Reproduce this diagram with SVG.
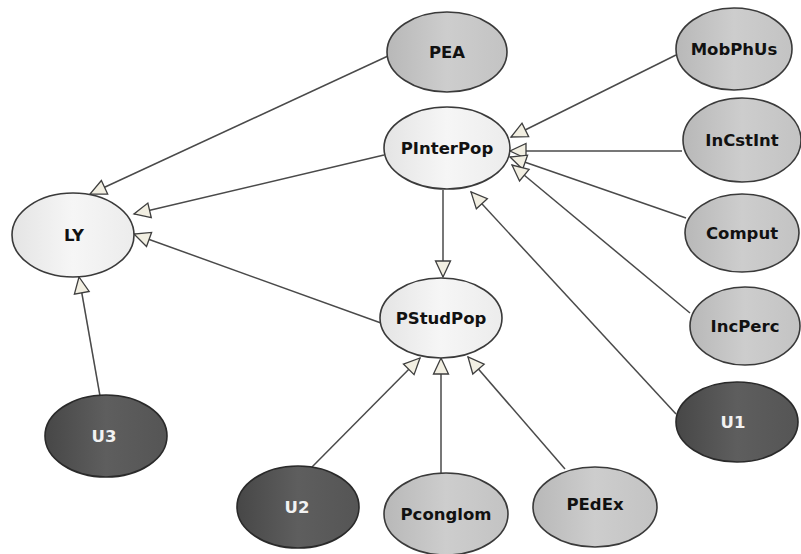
<svg xmlns="http://www.w3.org/2000/svg" width="801" height="554" viewBox="0 0 801 554">
<defs>
<style>
.light{fill:url(#gLight);stroke:#3a3a3a;stroke-width:1.6}
.mid{fill:url(#gMid);stroke:#3a3a3a;stroke-width:1.6}
.dark{fill:url(#gDark);stroke:#2a2a2a;stroke-width:1.6}
.t{font-family:"DejaVu Sans",Verdana,sans-serif;font-weight:bold;font-size:16.5px;text-anchor:middle;fill:#111}
.tw{font-family:"DejaVu Sans",Verdana,sans-serif;font-weight:bold;font-size:16.5px;text-anchor:middle;fill:#f2f2f2}
.e{stroke:#4a4a4a;stroke-width:1.5;fill:none;marker-end:url(#arr)}
</style>
<linearGradient id="gLight" x1="0" y1="0" x2="1" y2="0">
<stop offset="0" stop-color="#e4e4e4"/><stop offset="0.5" stop-color="#f6f6f6"/><stop offset="1" stop-color="#ececec"/>
</linearGradient>
<linearGradient id="gMid" x1="0" y1="0" x2="1" y2="0">
<stop offset="0" stop-color="#b8b8b8"/><stop offset="0.5" stop-color="#cdcdcd"/><stop offset="1" stop-color="#c3c3c3"/>
</linearGradient>
<linearGradient id="gDark" x1="0" y1="0" x2="1" y2="0">
<stop offset="0" stop-color="#474747"/><stop offset="0.5" stop-color="#5e5e5e"/><stop offset="1" stop-color="#555555"/>
</linearGradient>
<marker id="arr" markerUnits="userSpaceOnUse" markerWidth="20" markerHeight="18" refX="16.5" refY="8" orient="auto" overflow="visible">
<path d="M0.5,0.5 L16.5,8 L0.5,15.5 Z" fill="#f2efe2" stroke="#3e3e3e" stroke-width="1.3"/>
</marker>
</defs>
<rect width="801" height="554" fill="#ffffff"/>
<g id="edges">
<line class="e" x1="388" y1="56" x2="90" y2="194"/>
<line class="e" x1="384" y1="155" x2="134" y2="214"/>
<line class="e" x1="381" y1="323" x2="134" y2="234"/>
<line class="e" x1="100" y1="396" x2="79" y2="277"/>
<line class="e" x1="443" y1="190" x2="443" y2="277"/>
<line class="e" x1="676" y1="55" x2="511" y2="137"/>
<line class="e" x1="682" y1="151" x2="510" y2="151"/>
<line class="e" x1="686" y1="218" x2="510" y2="157"/>
<line class="e" x1="690" y1="313" x2="512" y2="165"/>
<line class="e" x1="676" y1="414" x2="471" y2="192"/>
<line class="e" x1="311" y1="468" x2="420" y2="358"/>
<line class="e" x1="441" y1="473" x2="441" y2="358"/>
<line class="e" x1="565" y1="469" x2="468" y2="357"/>
</g>
<g id="PEA"><ellipse class="mid" cx="447" cy="52" rx="60" ry="40"/><text class="t" x="447" y="58">PEA</text></g>
<g id="PInterPop"><ellipse class="light" cx="447" cy="148" rx="63" ry="41"/><text class="t" x="447" y="154">PInterPop</text></g>
<g id="LY"><ellipse class="light" cx="73" cy="235" rx="61" ry="42"/><text class="t" x="74" y="241">LY</text></g>
<g id="PStudPop"><ellipse class="light" cx="441" cy="318" rx="61" ry="40"/><text class="t" x="441" y="324">PStudPop</text></g>
<g id="MobPhUs"><ellipse class="mid" cx="734" cy="49" rx="58" ry="41"/><text class="t" x="734" y="55">MobPhUs</text></g>
<g id="InCstInt"><ellipse class="mid" cx="742" cy="140" rx="59" ry="42"/><text class="t" x="742" y="146">InCstInt</text></g>
<g id="Comput"><ellipse class="mid" cx="742" cy="233" rx="57" ry="39"/><text class="t" x="742" y="239">Comput</text></g>
<g id="IncPerc"><ellipse class="mid" cx="745" cy="326" rx="55" ry="39"/><text class="t" x="745" y="332">IncPerc</text></g>
<g id="U1"><ellipse class="dark" cx="737" cy="422" rx="61" ry="40"/><text class="tw" x="733" y="428">U1</text></g>
<g id="U3"><ellipse class="dark" cx="106" cy="436" rx="61" ry="41"/><text class="tw" x="104" y="442">U3</text></g>
<g id="U2"><ellipse class="dark" cx="298" cy="507" rx="61" ry="41"/><text class="tw" x="297" y="513">U2</text></g>
<g id="Pconglom"><ellipse class="mid" cx="446" cy="514" rx="62" ry="41"/><text class="t" x="446" y="520">Pconglom</text></g>
<g id="PEdEx"><ellipse class="mid" cx="595" cy="507" rx="62" ry="40"/><text class="t" x="595" y="510">PEdEx</text></g>
</svg>
